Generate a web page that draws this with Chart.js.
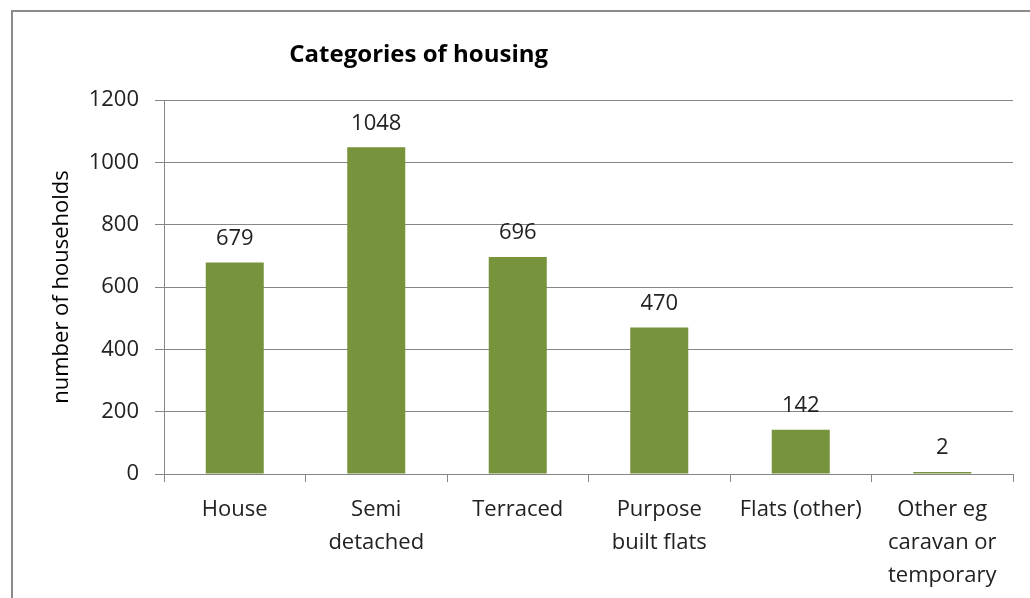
<!DOCTYPE html>
<html lang="en">
<head>
<meta charset="UTF-8">
<title>Categories of housing</title>
<script src="https://cdn.jsdelivr.net/npm/chart.js@4.4.1/dist/chart.umd.min.js"></script>
<style>
  body { margin: 0; background: #fff; }
  #frame { position: absolute; left: 11px; top: 10px; width: 1100px; height: 700px;
           border-left: 2px solid #8b8b8b; border-top: 2px solid #8b8b8b; }
  #wrap { position: absolute; left: 0; top: 0; width: 1030px; height: 598px; }
</style>
</head>
<body>
<div id="frame"></div>
<div id="wrap"><canvas id="myChart"></canvas></div>
<script>
var categories = [["House"], ["Semi", "detached"], ["Terraced"], ["Purpose", "built flats"], ["Flats (other)"], ["Other eg", "caravan or", "temporary"]];
var households = [679, 1048, 696, 470, 142, 2];
var yTicks = [0, 200, 400, 600, 800, 1000, 1200];

var FONT = "'Open Sans', sans-serif";
var grey = "#868686";

// title + value labels drawn after the bars
var labelPlugin = {
    id: "labels",
    afterDatasetsDraw: function(chart){
        var ctx = chart.ctx;
        var area = chart.chartArea;
        ctx.save();
        ctx.fillStyle = "#000";
        ctx.font = "bold 24px " + FONT;
        ctx.textAlign = "center";
        ctx.textBaseline = "middle";
        ctx.fillText("Categories of housing", area.left + area.width * 0.3, 55);

        ctx.font = "22px " + FONT;
        ctx.fillStyle = "#222";
        ctx.textBaseline = "bottom";
        var meta = chart.getDatasetMeta(0);
        meta.data.forEach(function(bar, i){
            ctx.fillText(households[i], bar.x, bar.y - 13);
        });
        ctx.restore();
    }
};

const ctx = document.getElementById('myChart').getContext('2d');
const myChart = new Chart(ctx, {
    type: 'bar',
    data: {
        labels: categories,
        datasets: [{
            label: 'households',
            data: households,
            backgroundColor: '#77933C',
            barPercentage: 0.41,
            categoryPercentage: 1,
            minBarLength: 2
        }]
    },
    options: {
        responsive: true,
        maintainAspectRatio: false,
        animation: false,
        layout: { padding: { left: 49, right: 17, top: 100, bottom: 0 } },
        plugins: {
            legend: { display: false },
            tooltip: { enabled: false }
        },
        scales: {
            x: {
                offset: true,
                grid: { offset: true, drawOnChartArea: false, color: grey, tickLength: 8 },
                border: { color: grey },
                ticks: { color: '#222', font: { family: FONT, size: 22, lineHeight: 1.5 }, padding: 11, maxRotation: 0, autoSkip: false },
                afterFit: function(s){ s.height = 124; }
            },
            y: {
                min: 0,
                max: 1200,
                afterBuildTicks: function(s){ s.ticks = yTicks.map(function(v){ return { value: v }; }); },
                grid: { color: grey, tickLength: 9 },
                border: { color: grey },
                ticks: { color: '#222', font: { family: FONT, size: 22 }, padding: 16, callback: function(v){ return String(v); } },
                title: { display: true, text: 'number of households', color: '#000', font: { family: FONT, size: 22 }, padding: { top: 0, bottom: 12 } },
                afterFit: function(s){ s.width = 115; }
            }
        }
    },
    plugins: [labelPlugin]
});
</script>
</body>
</html>
